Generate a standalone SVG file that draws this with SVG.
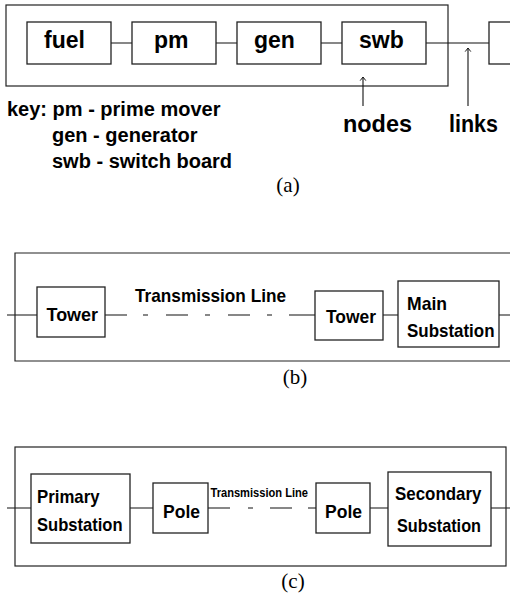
<svg xmlns="http://www.w3.org/2000/svg" width="510" height="596" viewBox="0 0 510 596">
<defs>
<style>
.frame{fill:none;stroke:#222;stroke-width:1.2}
.box{fill:#fff;stroke:#222;stroke-width:1.3}
.ln{fill:none;stroke:#111;stroke-width:1.1}
.t{font-family:"Liberation Sans",Arial,Helvetica,sans-serif;font-weight:bold;fill:#000}
.cap{font-family:"Liberation Serif","Times New Roman",serif;fill:#000;font-size:21px}
</style>
<marker id="ah" viewBox="0 0 10 10" refX="9" refY="5" markerWidth="8" markerHeight="8" orient="auto" markerUnits="userSpaceOnUse">
<path d="M4.5 1.5 L9 5 L4.5 8.5" fill="none" stroke="#111" stroke-width="1.2"/>
</marker>
</defs>
<rect width="510" height="596" fill="#fff"/>

<!-- Section (a) -->
<g id="system-a">
<rect class="frame" x="6" y="5" width="442" height="81"/>
</g>
<g id="connectors">
<path class="ln" d="M111 43H132M216 43H237M321 43H342M426 43H489"/>
<path class="ln" d="M363 106V77" marker-end="url(#ah)"/>
<path class="ln" d="M468 106V48" marker-end="url(#ah)"/>
<path class="ln" d="M7 315H37M105 315H127M143 315H148M166 315H188M205 315H210M228 315H250M267 315H272M289 315H315M383 315H398M499 315H510"/>
<path class="ln" d="M7 508H31M130 508H153M208 508H230M248 508H253M270 508H292M308 508H316M370 508H388M491 508H510"/>
</g>
<g id="node-fuel">
<rect class="box" x="27" y="22" width="84" height="42"/>
<text class="t" x="44" y="48" font-size="23">fuel</text>
</g>
<g id="node-pm">
<rect class="box" x="132" y="22" width="84" height="42"/>
<text class="t" x="154" y="48" font-size="23">pm</text>
</g>
<g id="node-gen">
<rect class="box" x="237" y="22" width="84" height="42"/>
<text class="t" x="254" y="48" font-size="23">gen</text>
</g>
<g id="node-swb">
<rect class="box" x="342" y="22" width="84" height="42"/>
<text class="t" x="359" y="48" font-size="23">swb</text>
</g>
<g id="node-next">
<rect class="box" x="489" y="22" width="40" height="42"/>
</g>
<g id="labels-a">
<text class="t" x="343" y="132" font-size="24" textLength="69" lengthAdjust="spacingAndGlyphs">nodes</text>
<text class="t" x="449" y="132" font-size="24" textLength="49" lengthAdjust="spacingAndGlyphs">links</text>
<text class="t" x="7" y="116" font-size="20">key: pm - prime mover</text>
<text class="t" x="52" y="142" font-size="20">gen - generator</text>
<text class="t" x="52" y="168" font-size="20">swb - switch board</text>
<text class="cap" x="288" y="192" text-anchor="middle">(a)</text>
</g>

<!-- Section (b) -->
<g id="system-b">
<path class="frame" d="M515 253H15V361H515"/>
</g>
<g id="node-tower1">
<rect class="box" x="37" y="287" width="68" height="50"/>
<text class="t" x="46.5" y="321" font-size="19" textLength="51.5" lengthAdjust="spacingAndGlyphs">Tower</text>
</g>
<g id="node-tower2">
<rect class="box" x="315" y="291" width="68" height="49"/>
<text class="t" x="326" y="323" font-size="19" textLength="50" lengthAdjust="spacingAndGlyphs">Tower</text>
</g>
<g id="node-main">
<rect class="box" x="398" y="281" width="101" height="66"/>
<text class="t" x="407" y="310" font-size="19" textLength="40" lengthAdjust="spacingAndGlyphs">Main</text>
<text class="t" x="407" y="337" font-size="19" textLength="87.5" lengthAdjust="spacingAndGlyphs">Substation</text>
</g>
<g id="labels-b">
<text class="t" x="135" y="302" font-size="19" textLength="151" lengthAdjust="spacingAndGlyphs">Transmission Line</text>
<text class="cap" x="295" y="384" text-anchor="middle">(b)</text>
</g>

<!-- Section (c) -->
<g id="system-c">
<rect class="frame" x="15" y="447" width="491" height="119"/>
</g>
<g id="node-primary">
<rect class="box" x="31" y="474" width="99" height="69"/>
<text class="t" x="37" y="503" font-size="18.5" textLength="62.5" lengthAdjust="spacingAndGlyphs">Primary</text>
<text class="t" x="37" y="531" font-size="18.5" textLength="85.5" lengthAdjust="spacingAndGlyphs">Substation</text>
</g>
<g id="node-pole1">
<rect class="box" x="153" y="483" width="55" height="50"/>
<text class="t" x="163" y="518" font-size="19" textLength="37" lengthAdjust="spacingAndGlyphs">Pole</text>
</g>
<g id="node-pole2">
<rect class="box" x="316" y="483" width="54" height="50"/>
<text class="t" x="325" y="518" font-size="19" textLength="37" lengthAdjust="spacingAndGlyphs">Pole</text>
</g>
<g id="node-secondary">
<rect class="box" x="388" y="472" width="103" height="74"/>
<text class="t" x="395" y="500" font-size="18.5" textLength="86.5" lengthAdjust="spacingAndGlyphs">Secondary</text>
<text class="t" x="397" y="532" font-size="18.5" textLength="84" lengthAdjust="spacingAndGlyphs">Substation</text>
</g>
<g id="labels-c">
<text class="t" x="210.5" y="497" font-size="12.5" textLength="97.5" lengthAdjust="spacingAndGlyphs">Transmission Line</text>
<text class="cap" x="293" y="588" text-anchor="middle">(c)</text>
</g>
</svg>
